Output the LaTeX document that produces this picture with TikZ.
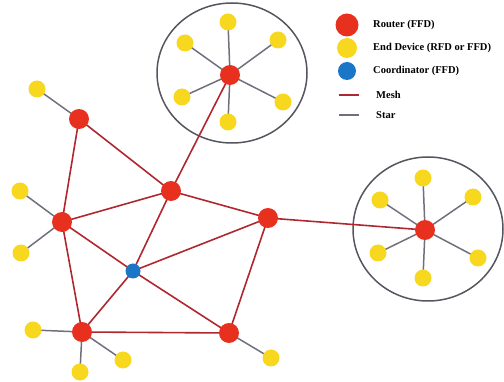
\documentclass[tikz,border=0pt]{standalone}
\usepackage{fontspec}
\setmainfont{Liberation Serif}
\begin{document}
\definecolor{routerred}{RGB}{232,48,30}
\definecolor{devyellow}{RGB}{248,216,30}
\definecolor{coordblue}{RGB}{28,118,200}
\definecolor{meshline}{RGB}{175,40,48}
\definecolor{starline}{RGB}{112,112,125}
\definecolor{ringgray}{RGB}{85,85,95}
\begin{tikzpicture}[x=1pt,y=-1pt,
  router/.style={circle,fill=routerred,minimum size=20pt,inner sep=0pt},
  device/.style={circle,fill=devyellow,minimum size=17pt,inner sep=0pt},
  coord/.style={circle,fill=coordblue,minimum size=15pt,inner sep=0pt},
  mesh/.style={draw=meshline,line width=1.6pt},
  star/.style={draw=starline,line width=1.5pt},
  ring/.style={draw=ringgray,line width=1.5pt},
  legend/.style={anchor=west,font=\fontsize{10.5}{12}\selectfont\bfseries,inner sep=0pt}]
\useasboundingbox (0,0) rectangle (504,382);

% star clusters' enclosing rings
\draw[ring] (232,73) circle[x radius=75pt,y radius=70pt];
\draw[ring] (428,229) circle[x radius=75pt,y radius=72pt];

% coordinates of all nodes
\coordinate (rt) at (230,75);
\coordinate (rr) at (425,230);
\coordinate (r1) at (79,119);
\coordinate (r2) at (171,191);
\coordinate (r3) at (62,222);
\coordinate (r4) at (268,218);
\coordinate (c)  at (133,271);
\coordinate (r5) at (82,332);
\coordinate (r6) at (229,333);

% end devices
\coordinate (t1) at (228,22);
\coordinate (t2) at (185,43);
\coordinate (t3) at (278,40);
\coordinate (t4) at (182,97);
\coordinate (t5) at (283,102);
\coordinate (t6) at (228,122);
\coordinate (s1) at (423,178);
\coordinate (s2) at (380,200);
\coordinate (s3) at (473,197);
\coordinate (s4) at (378,253);
\coordinate (s5) at (478,258);
\coordinate (s6) at (423,278);
\coordinate (y1) at (37,89);
\coordinate (y2) at (20,191);
\coordinate (y3) at (21,253);
\coordinate (y4) at (33,330);
\coordinate (y5) at (123,360);
\coordinate (y6) at (80,372);
\coordinate (y7) at (271,358);

% star links
\foreach \d in {t1,t2,t3,t4,t5,t6} \draw[star] (rt) -- (\d);
\foreach \d in {s1,s2,s3,s4,s5,s6} \draw[star] (rr) -- (\d);
\draw[star] (r1) -- (y1);
\draw[star] (r3) -- (y2);
\draw[star] (r3) -- (y3);
\draw[star] (r5) -- (y4);
\draw[star] (r5) -- (y5);
\draw[star] (r5) -- (y6);
\draw[star] (r6) -- (y7);

% mesh links
\draw[mesh] (r1) -- (r3);
\draw[mesh] (r1) -- (r2);
\draw[mesh] (r2) -- (rt);
\draw[mesh] (r2) -- (r3);
\draw[mesh] (r2) -- (r4);
\draw[mesh] (r2) -- (c);
\draw[mesh] (r3) -- (c);
\draw[mesh] (r3) -- (r5);
\draw[mesh] (c) -- (r5);
\draw[mesh] (c) -- (r4);
\draw[mesh] (c) -- (r6);
\draw[mesh] (r5) -- (r6);
\draw[mesh] (r6) -- (r4);
\draw[mesh] (r4) -- (rr);

% nodes drawn over the links
\foreach \d in {t1,t2,t3,t4,t5,t6,s1,s2,s3,s4,s5,s6,y1,y2,y3,y4,y5,y6,y7}
  \node[device] (n\d) at (\d) {};
\foreach \r in {rt,rr,r1,r2,r3,r4,r5,r6}
  \node[router] (n\r) at (\r) {};
\node[coord] (nc) at (c) {};

% legend
\node[router,minimum size=23pt] (lr) at (347,25) {};
\node[device,minimum size=20pt] (ly) at (347,48) {};
\node[coord,minimum size=18pt] (lb) at (347,71) {};
\coordinate (lm1) at (339,95);
\coordinate (lm2) at (359,95);
\coordinate (ls1) at (339,115);
\coordinate (ls2) at (359,115);
\draw[mesh] (lm1) -- (lm2);
\draw[star] (ls1) -- (ls2);
\node[legend] (tr) at (373,25) {Router (FFD)};
\node[legend] (ty) at (373,48) {End Device (RFD or FFD)};
\node[legend] (tb) at (373,71) {Coordinator (FFD)};
\node[legend] (tm) at (376,95) {Mesh};
\node[legend] (ts) at (376,115) {Star};
\end{tikzpicture}
\end{document}
